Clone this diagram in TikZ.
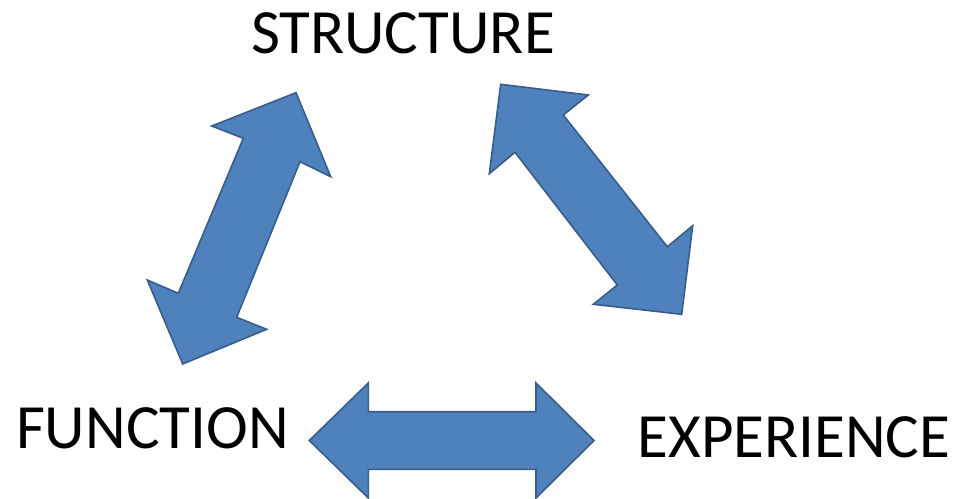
\documentclass[tikz,border=0pt]{standalone}
\usepackage{fontspec}
\setmainfont{Carlito}
\begin{document}
\begin{tikzpicture}[x=1pt,y=-1pt,
  blockarrow/.style={fill={rgb,255:red,79;green,129;blue,189},
    draw={rgb,255:red,56;green,93;blue,138}, line width=1.6pt, line join=miter},
  label/.style={inner sep=0pt, anchor=base, font=\fontsize{63}{63}\selectfont}]
\useasboundingbox (0,0) rectangle (960,498);

% labels
\node[label] (structure) at (403,53.3) {STRUCTURE};
\node[label] (function) at (152.5,448.3) {FUNCTION};
\node[label] (experience) at (794,457.7) {EXPERIENCE};

% structure <-> function
\draw[blockarrow] (296,92.7) -- (330.7,176.7) -- (300,161.7) -- (236.7,317.3)
  -- (266.7,329.3) -- (182.7,364) -- (147.3,280) -- (178.3,293.3)
  -- (243.3,138.3) -- (211.7,126) -- cycle;

% structure <-> experience
\draw[blockarrow] (500.7,84.3) -- (588.3,95) -- (563.3,115) -- (667.3,246.7)
  -- (692.7,225.7) -- (681.7,314.3) -- (593.3,304.3) -- (617.3,285)
  -- (515,152.3) -- (489.3,173.7) -- cycle;

% function <-> experience
\draw[blockarrow] (309.3,440.5) -- (368.3,383) -- (368.3,411.7) -- (536,411.7)
  -- (536,383) -- (594,440.5) -- (536,498) -- (536,469.3) -- (368.3,469.3)
  -- (368.3,498) -- cycle;
\end{tikzpicture}
\end{document}
